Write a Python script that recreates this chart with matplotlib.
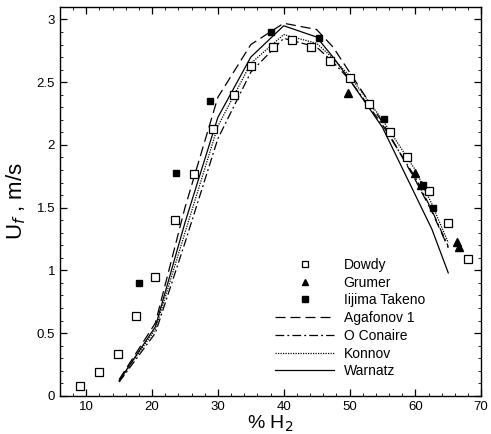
import matplotlib
matplotlib.use("Agg")
import matplotlib.pyplot as plt
from matplotlib.ticker import MultipleLocator

plt.rcParams['font.family'] = ['Liberation Sans', 'DejaVu Sans']

# Experimental data
dowdy_x = [9.0, 11.9, 14.8, 17.6, 20.5, 23.5, 26.3, 29.2, 32.4, 35.0, 38.3, 41.2,
           44.1, 47.0, 50.0, 53.0, 56.2, 58.8, 62.0, 64.9, 68.0]
dowdy_y = [0.08, 0.19, 0.33, 0.64, 0.95, 1.40, 1.77, 2.13, 2.40, 2.63, 2.78, 2.84,
           2.78, 2.67, 2.53, 2.33, 2.10, 1.90, 1.63, 1.38, 1.09]
grumer_x = [49.8, 59.9, 60.8, 66.3, 66.7]
grumer_y = [2.41, 1.78, 1.68, 1.23, 1.19]
iijima_x = [18.0, 23.6, 28.8, 38.0, 45.4, 55.3, 61.1, 62.7]
iijima_y = [0.90, 1.78, 2.35, 2.90, 2.85, 2.21, 1.68, 1.50]

# Model curves
model_x = [15, 20.5, 25, 30, 35, 40, 45, 47.5, 50, 55, 60, 62.5, 65]
agafonov_y = [0.13, 0.58, 1.50, 2.38, 2.80, 2.97, 2.92, 2.78, 2.58, 2.18, 1.72, 1.47, 1.18]
oconaire_y = [0.11, 0.50, 1.22, 2.05, 2.58, 2.85, 2.78, 2.66, 2.52, 2.16, 1.74, 1.48, 1.19]
konnov_y   = [0.12, 0.53, 1.30, 2.15, 2.65, 2.88, 2.81, 2.69, 2.55, 2.20, 1.80, 1.53, 1.22]
warnatz_y  = [0.12, 0.55, 1.38, 2.22, 2.70, 2.95, 2.86, 2.70, 2.52, 2.14, 1.60, 1.33, 0.98]

fig = plt.figure(figsize=(4.91, 4.34), dpi=100)
ax = fig.add_axes([0.122, 0.088, 0.858, 0.896])

ax.plot(dowdy_x, dowdy_y, 's', mfc='white', mec='black', mew=0.9, ms=6, label='Dowdy', zorder=5)
ax.plot(grumer_x, grumer_y, '^', color='black', ms=5.5, label='Grumer', zorder=5)
ax.plot(iijima_x, iijima_y, 's', color='black', ms=5, label='Iijima Takeno', zorder=5)

ax.plot(model_x, agafonov_y, color='black', lw=0.9, ls=(0, (8, 4)), label='Agafonov 1')
ax.plot(model_x, oconaire_y, color='black', lw=0.9, ls=(0, (7, 2.5, 1.5, 2.5)), label='O Conaire')
ax.plot(model_x, konnov_y, color='black', lw=0.9, ls=(0, (1, 1)), label='Konnov')
ax.plot(model_x, warnatz_y, color='black', lw=0.9, ls='-', label='Warnatz')

ax.set_xlim(6, 70)
ax.set_ylim(0, 3.1)
ax.xaxis.set_major_locator(MultipleLocator(10))
ax.xaxis.set_minor_locator(MultipleLocator(2))
ax.yaxis.set_minor_locator(MultipleLocator(0.1))
ax.set_yticks([0, 0.5, 1, 1.5, 2, 2.5, 3])
ax.set_yticklabels(['0', '0.5', '1', '1.5', '2', '2.5', '3'])
ax.tick_params(which='both', direction='in', top=True, right=True, labelsize=9.5)
ax.tick_params(which='major', length=5, width=0.9)
ax.tick_params(which='minor', length=2.5, width=0.6)
for s in ax.spines.values():
    s.set_linewidth(1.0)

ax.set_xlabel('% H$_2$', fontsize=14, labelpad=1)
ax.set_ylabel('U$_f$ , m/s', fontsize=16, labelpad=6)

leg = ax.legend(loc='upper left', bbox_to_anchor=(0.51, 0.355), frameon=False,
                fontsize=10, handlelength=4.3, handletextpad=0.65, labelspacing=0.27,
                borderpad=0, borderaxespad=0, markerscale=0.8)

fig.savefig('out.png', dpi=100)
